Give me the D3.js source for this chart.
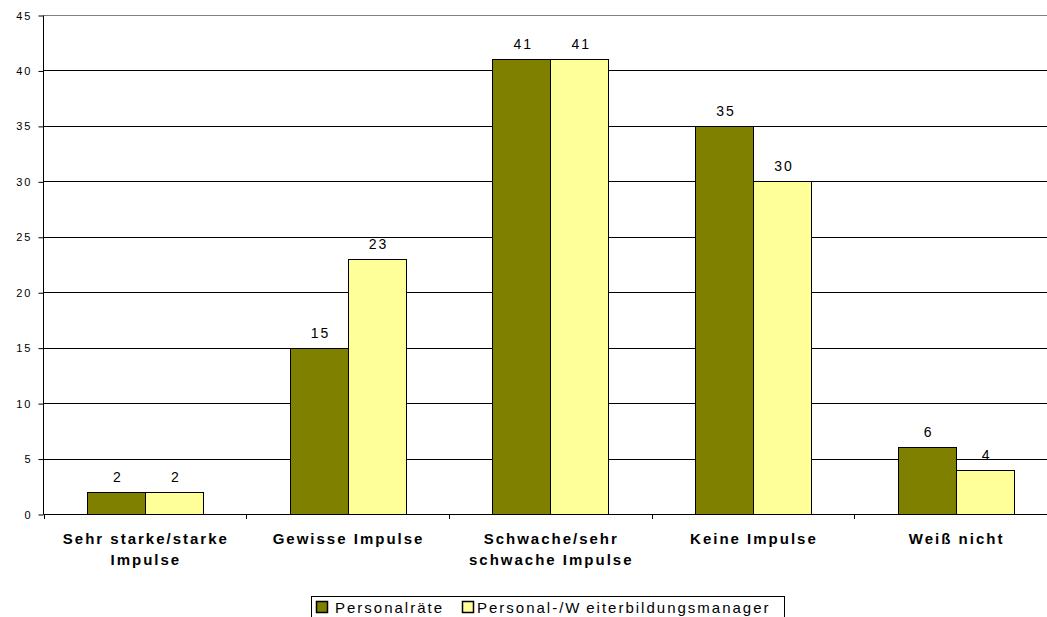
<!DOCTYPE html>
<html>
<head>
<meta charset="utf-8">
<script src="https://cdn.jsdelivr.net/npm/d3@7"></script>
<style>
body { margin: 0; background: #fff; }
text { font-family: "Liberation Sans", Arial, sans-serif; }
</style>
</head>
<body>
<div id="chart"></div>
<script>
var categories = [["Sehr starke/starke", "Impulse"], ["Gewisse Impulse"], ["Schwache/sehr", "schwache Impulse"], ["Keine Impulse"], ["Weiß nicht"]];
var seriesNames = ["Personalräte", "Personal-/Weiterbildungsmanager"];
var personalraete = [2, 15, 41, 35, 6];
var manager = [2, 23, 41, 30, 4];
var yTicks = [0, 5, 10, 15, 20, 25, 30, 35, 40, 45];
var colors = ["#808000", "#FFFF99"];

var width = 1047, height = 617;
// plot area runs a little past the right edge of the window
var mLeft = 43.5, mRight = 1057, mTop = 15, mBottom = 514;

var svg = d3.select("#chart").append("svg")
    .attr("width", width)
    .attr("height", height);

var x = d3.scaleBand().domain(d3.range(categories.length)).range([mLeft, mRight]);
var y = d3.scaleLinear().domain([0, 45]).range([mBottom, mTop]);
var barW = 58;

//gridlines
svg.selectAll("line.grid")
    .data(yTicks.filter(d => d > 0))
    .enter()
    .append("line")
    .attr("x1", mLeft).attr("x2", width)
    .attr("y1", d => Math.round(y(d)) + 0.5).attr("y2", d => Math.round(y(d)) + 0.5)
    .style("stroke", d => d == 45 ? "#808080" : "#000")
    .style("stroke-width", 1);

//y axis
var yAxis = svg.append("g")
    .attr("transform", "translate(" + mLeft + ",0.5)")
    .call(d3.axisLeft(y).tickValues(yTicks).tickSize(5).tickPadding(6));
yAxis.select(".domain").attr("d", "M0," + mTop + "V" + mBottom).style("stroke", "#000");
yAxis.selectAll("text").style("font-size", "11px").style("fill", "#000").style("letter-spacing", "2px");

//bars
var series = [personalraete, manager];
series.forEach((vals, s) => {
    svg.selectAll("rect.s" + s)
        .data(vals)
        .enter()
        .append("rect")
        .attr("class", "s" + s)
        .attr("x", (d, i) => Math.round(x(i) + x.bandwidth() / 2 - barW + s * barW) + 0.5)
        .attr("y", d => Math.round(y(d)) + 0.5)
        .attr("width", barW)
        .attr("height", d => y(0) - Math.round(y(d)))
        .style("fill", colors[s])
        .style("stroke", "#000")
        .style("stroke-width", 1);
    svg.selectAll("text.v" + s)
        .data(vals)
        .enter()
        .append("text")
        .attr("x", (d, i) => x(i) + x.bandwidth() / 2 - barW / 2 + s * barW + 2)
        .attr("y", d => y(d) - 10)
        .attr("text-anchor", "middle")
        .style("font-size", "14px")
        .style("letter-spacing", "2px")
        .text(d => d);
});

//x axis
svg.append("line")
    .attr("x1", mLeft).attr("x2", width)
    .attr("y1", mBottom + 0.5).attr("y2", mBottom + 0.5)
    .style("stroke", "#000");
svg.selectAll("line.xtick")
    .data(d3.range(categories.length + 1))
    .enter()
    .append("line")
    .attr("x1", d => Math.round(mLeft + d * x.bandwidth()) + 0.5).attr("x2", d => Math.round(mLeft + d * x.bandwidth()) + 0.5)
    .attr("y1", mBottom).attr("y2", mBottom + 5)
    .style("stroke", "#000");

svg.selectAll("text.cat")
    .data(categories)
    .enter()
    .append("text")
    .attr("text-anchor", "middle")
    .attr("y", 544)
    .style("font-size", "15px")
    .style("font-weight", "bold")
    .style("letter-spacing", "2px")
    .each(function(d, i) {
        let t = d3.select(this);
        d.forEach((line, j) => {
            t.append("tspan")
                .attr("x", x(i) + x.bandwidth() / 2 + 1)
                .attr("dy", j == 0 ? 0 : 21)
                .text(line);
        });
    });

//legend
var legend = svg.append("g");
legend.append("rect")
    .attr("x", 311.5).attr("y", 596.5)
    .attr("width", 473).attr("height", 24)
    .style("fill", "#fff").style("stroke", "#000");
var legSq = [316, 462], legTx = [335, 477];
seriesNames.forEach((n, i) => {
    legend.append("rect")
        .attr("x", legSq[i] + 0.5).attr("y", 601.5)
        .attr("width", 11).attr("height", 11)
        .style("fill", colors[i]).style("stroke", "#000").style("stroke-width", 1.5);
    let t = legend.append("text")
        .attr("x", legTx[i]).attr("y", 613)
        .style("font-size", "15px")
        .style("letter-spacing", "2px");
    // the original leaves a small gap after the "W"
    let k = n.indexOf("W");
    if (k > 0) {
        t.append("tspan").text(n.slice(0, k + 1));
        t.append("tspan").attr("dx", 5).text(n.slice(k + 1));
    } else {
        t.text(n);
    }
});
</script>
</body>
</html>
